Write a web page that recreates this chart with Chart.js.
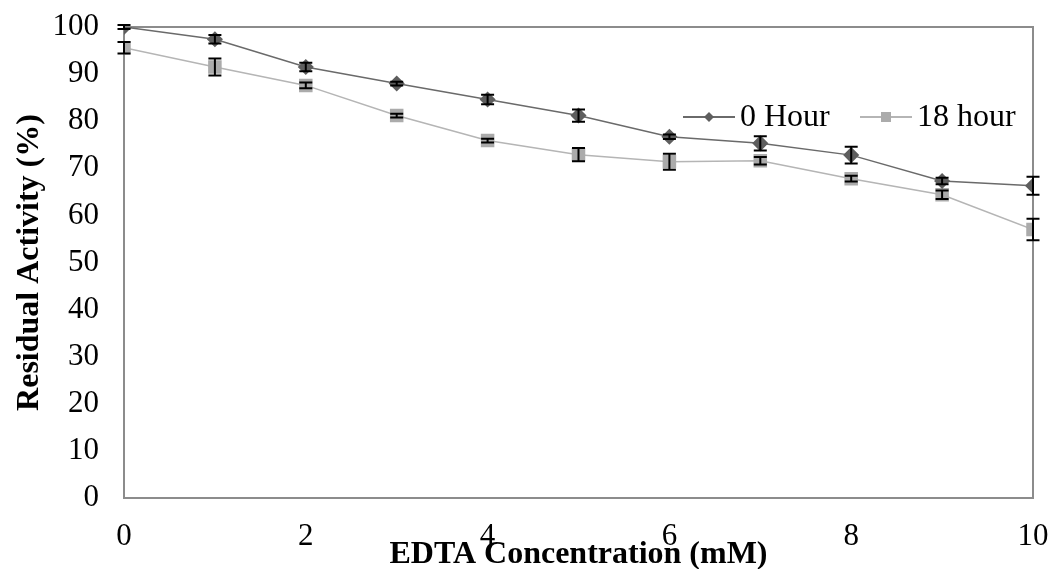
<!DOCTYPE html>
<html>
<head>
<meta charset="utf-8">
<script src="https://cdn.jsdelivr.net/npm/chart.js@4/dist/chart.umd.min.js"></script>
<style>
  html, body { margin: 0; padding: 0; background: #fff; }
  #wrap { width: 1056px; height: 569px; }
</style>
</head>
<body>
<div id="wrap"><canvas id="chart" width="1056" height="569"></canvas></div>
<script>
// EDTA concentration (mM)
var concentration = [0, 1, 2, 3, 4, 5, 6, 7, 8, 9, 10];
var hour0 = [100, 97.4, 91.5, 88.0, 84.6, 81.2, 76.7, 75.3, 72.8, 67.3, 66.3];
var hour0Err = [0.4, 0.9, 0.9, 0.4, 1.0, 1.3, 0.5, 1.5, 1.8, 0.7, 1.9];
var hour18 = [95.6, 91.5, 87.6, 81.2, 75.9, 72.9, 71.4, 71.6, 67.8, 64.4, 57.0];
var hour18Err = [1.2, 1.8, 0.6, 0.4, 0.4, 1.4, 1.7, 0.8, 0.6, 0.9, 2.3];
var yTicks = [0, 10, 20, 30, 40, 50, 60, 70, 80, 90, 100];
var xTicks = [0, 2, 4, 6, 8, 10];

var serif = "'Liberation Serif', 'Times New Roman', serif";

function pts(xs, ys) {
  return xs.map(function (x, i) { return { x: x, y: ys[i] }; });
}

// plot frame + error bars + legend
var extras = {
  id: 'extras',
  beforeDatasetsDraw: function (chart) {
    var a = chart.chartArea, ctx = chart.ctx;
    ctx.save();
    ctx.strokeStyle = '#8c8c8c';
    ctx.lineWidth = 2;
    ctx.strokeRect(a.left, a.top, a.right - a.left, a.bottom - a.top);
    ctx.restore();
  },
  afterDatasetsDraw: function (chart) {
    var ctx = chart.ctx, xs = chart.scales.x, ys = chart.scales.y;
    var errs = [hour0Err, hour18Err];
    ctx.save();
    ctx.strokeStyle = '#000';
    ctx.lineWidth = 2;
    chart.data.datasets.forEach(function (ds, d) {
      ds.data.forEach(function (p, i) {
        var px = xs.getPixelForValue(p.x);
        var top = ys.getPixelForValue(p.y + errs[d][i]);
        var bot = ys.getPixelForValue(p.y - errs[d][i]);
        ctx.beginPath();
        ctx.moveTo(px, top); ctx.lineTo(px, bot);
        ctx.moveTo(px - 6.5, top); ctx.lineTo(px + 6.5, top);
        ctx.moveTo(px - 6.5, bot); ctx.lineTo(px + 6.5, bot);
        ctx.stroke();
      });
    });
    ctx.restore();
  },
  afterDraw: function (chart) {
    var ctx = chart.ctx;
    var items = [
      { ds: chart.data.datasets[0], x: 683 },
      { ds: chart.data.datasets[1], x: 860 }
    ];
    var y = 117;
    ctx.save();
    ctx.font = '32px ' + serif;
    ctx.textBaseline = 'middle';
    items.forEach(function (it) {
      ctx.strokeStyle = it.ds.borderColor;
      ctx.lineWidth = 2;
      ctx.beginPath();
      ctx.moveTo(it.x, y); ctx.lineTo(it.x + 52, y);
      ctx.stroke();
      ctx.fillStyle = it.ds.pointBackgroundColor;
      if (it.ds.pointStyle === 'rectRot') {
        ctx.beginPath();
        ctx.moveTo(it.x + 26, y - 5); ctx.lineTo(it.x + 31, y);
        ctx.lineTo(it.x + 26, y + 5); ctx.lineTo(it.x + 21, y);
        ctx.closePath(); ctx.fill();
      } else {
        ctx.fillRect(it.x + 21, y - 5, 10, 10);
      }
      ctx.fillStyle = '#000';
      ctx.fillText(it.ds.label, it.x + 57, y + 1);
    });
    ctx.restore();
  }
};

new Chart(document.getElementById('chart'), {
  type: 'line',
  data: {
    datasets: [
      {
        label: '0 Hour',
        data: pts(concentration, hour0),
        borderColor: '#6a6a6a',
        backgroundColor: '#5e5e5e',
        pointBackgroundColor: '#5e5e5e',
        pointBorderColor: '#5e5e5e',
        pointStyle: 'rectRot',
        pointRadius: 7,
        borderWidth: 1.5,
        tension: 0
      },
      {
        label: '18 hour',
        data: pts(concentration, hour18),
        borderColor: '#b5b5b5',
        backgroundColor: '#ababab',
        pointBackgroundColor: '#ababab',
        pointBorderColor: '#ababab',
        pointStyle: 'rect',
        pointRadius: 8.5,
        borderWidth: 1.5,
        tension: 0
      }
    ]
  },
  options: {
    responsive: false,
    animation: false,
    layout: { padding: { left: 0, right: 23, top: 27, bottom: 0 } },
    plugins: {
      legend: { display: false },
      tooltip: { enabled: false }
    },
    scales: {
      x: {
        type: 'linear',
        min: 0,
        max: 10,
        afterBuildTicks: function (s) { s.ticks = xTicks.map(function (v) { return { value: v }; }); },
        afterFit: function (s) { s.height = 71; s.paddingLeft = 0; s.paddingRight = 0; },
        grid: { display: false, drawTicks: false },
        border: { display: false },
        ticks: {
          padding: 20,
          maxRotation: 0,
          color: '#000',
          font: { family: serif, size: 31 }
        },
        title: {
          display: true,
          text: 'EDTA Concentration (mM)',
          color: '#000',
          padding: { top: 0, bottom: -5 },
          font: { family: serif, size: 32, weight: 'bold' }
        }
      },
      y: {
        min: 0,
        max: 100,
        afterBuildTicks: function (s) { s.ticks = yTicks.map(function (v) { return { value: v }; }); },
        afterFit: function (s) { s.width = 124; s.paddingTop = 0; s.paddingBottom = 0; },
        grid: { display: false, drawTicks: false },
        border: { display: false },
        ticks: {
          padding: 25,
          color: '#000',
          font: { family: serif, size: 31 }
        },
        title: {
          display: true,
          text: 'Residual Activity (%)',
          color: '#000',
          padding: { top: 11, bottom: 0 },
          font: { family: serif, size: 32, weight: 'bold' }
        }
      }
    }
  },
  plugins: [extras]
});
</script>
</body>
</html>
